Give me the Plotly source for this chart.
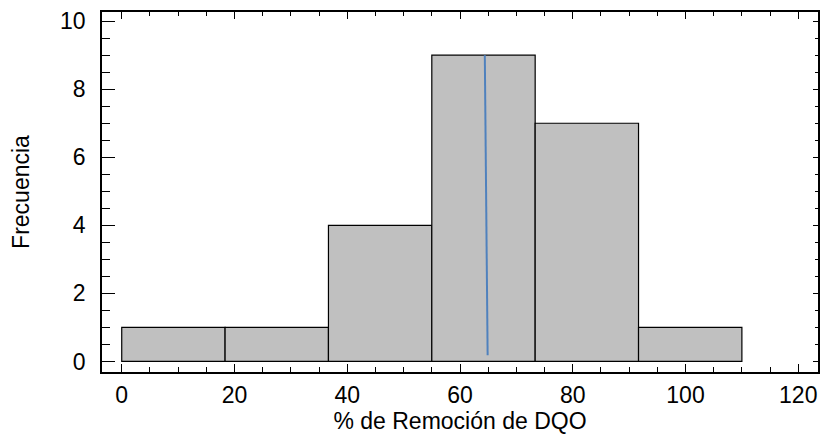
import plotly.graph_objects as go

# Data
bin_edges = [0, 18.333, 36.667, 55.0, 73.333, 91.667, 110.0]
counts = [1, 1, 4, 9, 7, 1]
line_x = [64.4, 64.9]
line_y = [9.0, 0.18]

x_ticks = [0, 20, 40, 60, 80, 100, 120]
y_ticks = [0, 2, 4, 6, 8, 10]

centers = [(a + b) / 2 for a, b in zip(bin_edges[:-1], bin_edges[1:])]
widths = [b - a for a, b in zip(bin_edges[:-1], bin_edges[1:])]

FONT = "Liberation Sans, Arial, sans-serif"

fig = go.Figure()
fig.add_trace(go.Bar(
    x=centers, y=counts, width=widths,
    marker=dict(color="#c0c0c0", line=dict(color="black", width=1.2)),
    showlegend=False, hoverinfo="skip",
))
fig.add_trace(go.Scatter(
    x=line_x, y=line_y, mode="lines", xaxis="x2", yaxis="y2",
    line=dict(color="#4f81bd", width=2),
    showlegend=False, hoverinfo="skip",
))

xr = [-3.5, 123.5]
yr = [-0.31, 10.27]

fig.update_layout(
    width=822, height=438,
    margin=dict(l=102, r=4, t=12, b=66),
    paper_bgcolor="white", plot_bgcolor="white",
    font=dict(family=FONT, size=23, color="black"),
    xaxis=dict(
        range=xr, tickvals=x_ticks, ticktext=[str(v) for v in x_ticks],
        ticks="inside", ticklen=8, tickwidth=1.2, tickcolor="black",
        minor=dict(dtick=5, tick0=0, ticks="inside", ticklen=5, tickwidth=1.2, tickcolor="black", showgrid=False),
        showline=True, linecolor="black", linewidth=1.5,
        showgrid=False, zeroline=False,
        ticklabelstandoff=2,
        title=dict(text="% de Remoción de DQO", font=dict(size=23), standoff=6),
    ),
    yaxis=dict(
        range=yr, tickvals=y_ticks, ticktext=[str(v) for v in y_ticks],
        ticks="inside", ticklen=13, tickwidth=1.2, tickcolor="black",
        minor=dict(dtick=0.5, tick0=0, ticks="inside", ticklen=8, tickwidth=1.2, tickcolor="black", showgrid=False),
        showline=True, linecolor="black", linewidth=1.5,
        showgrid=False, zeroline=False,
        ticklabelstandoff=10,
        title=dict(text="Frecuencia", font=dict(size=23), standoff=24),
    ),
    xaxis2=dict(
        range=xr, overlaying="x", side="top", anchor="y2",
        tickvals=x_ticks, showticklabels=False,
        ticks="inside", ticklen=7, tickwidth=1.2, tickcolor="black",
        minor=dict(dtick=5, tick0=0, ticks="inside", ticklen=4, tickwidth=1.2, tickcolor="black", showgrid=False),
        showline=True, linecolor="black", linewidth=1.5,
        showgrid=False, zeroline=False,
    ),
    yaxis2=dict(
        range=yr, overlaying="y", side="right", anchor="x2",
        tickvals=y_ticks, showticklabels=False,
        ticks="inside", ticklen=5, tickwidth=1.2, tickcolor="black",
        minor=dict(dtick=0.5, tick0=0, ticks="inside", ticklen=3, tickwidth=1.2, tickcolor="black", showgrid=False),
        showline=True, linecolor="black", linewidth=1.5,
        showgrid=False, zeroline=False,
    ),
)

fig.write_html("out.html")
